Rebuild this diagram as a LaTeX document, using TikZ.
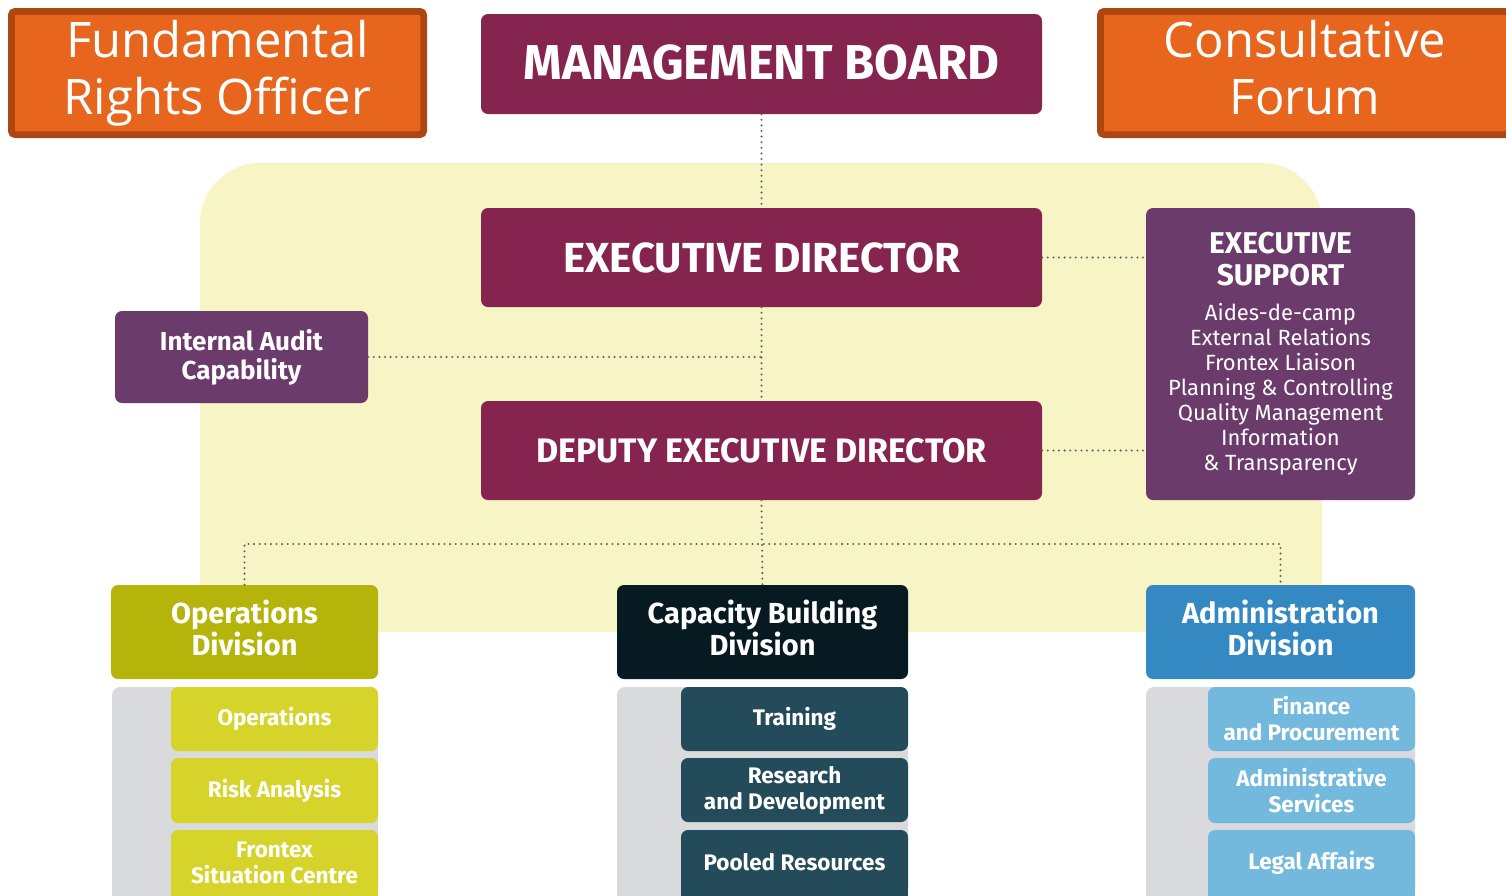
\documentclass[tikz,border=0pt]{standalone}
\usepackage{fontspec}
\newfontfamily\orgf{Fira Sans}
\newfontfamily\titf{Open Sans}
\newcommand\dpstrut[1]{\rule[-#1]{0pt}{#1}}
\definecolor{maroon}{HTML}{85254F}
\definecolor{purp}{HTML}{6B3B6B}
\definecolor{bgyellow}{HTML}{F7F4C6}
\definecolor{olive}{HTML}{B4B40A}
\definecolor{olivesub}{HTML}{D6D42A}
\definecolor{navy}{HTML}{071A22}
\definecolor{navysub}{HTML}{244B59}
\definecolor{blued}{HTML}{3489C2}
\definecolor{bluesub}{HTML}{73B9DD}
\definecolor{greyb}{HTML}{D9DADC}
\definecolor{orangef}{HTML}{E8651E}
\definecolor{oranged}{HTML}{AE4612}
\definecolor{dotgray}{HTML}{666666}
\begin{document}
\begin{tikzpicture}[x=1pt,y=-1pt,
  orgbox/.style={rounded corners=7pt, text=white, align=center, inner sep=0pt},
  orangebox/.style={fill=orangef, draw=oranged, line width=6pt, rounded corners=4pt, text=white, align=center, inner sep=0pt,
    font=\titf\fontsize{49}{57}\selectfont},
  bigf/.style={font=\orgf\bfseries\fontsize{#1}{#1}\selectfont},
  divf/.style={font=\orgf\bfseries\fontsize{29}{32}\selectfont},
  subf/.style={font=\orgf\bfseries\fontsize{22.5}{26}\selectfont},
  conn/.style={draw=dotgray, line width=2.3pt, line cap=round, dash pattern=on 0pt off 5.6pt}
]
\useasboundingbox (0,0) rectangle (1506,895);
\clip (0,0) rectangle (1506,895);
% background
\fill[bgyellow] (200,632) -- (200,400) [rounded corners=60pt] -- (200,163) -- (1322,163) -- (1322,400) [sharp corners] -- (1322,632) -- cycle;

% orange boxes
\node[orangebox, minimum width=413pt, minimum height=124pt] (fro) at (217.5,73) {Fundamental\\Rights Officer};
\draw[oranged, line width=1.5pt, rounded corners=2pt] ([shift={(6pt,-6pt)}]fro.north west) rectangle ([shift={(-6pt,6pt)}]fro.south east);
\node[orangebox, minimum width=410pt, minimum height=124pt] (cf) at (1305,73) {Consultative\\Forum\vphantom{g}};
\draw[oranged, line width=1.5pt, rounded corners=2pt] ([shift={(6pt,-6pt)}]cf.north west) rectangle ([shift={(-6pt,6pt)}]cf.south east);

% top chain
\node[orgbox, fill=maroon, minimum width=561pt, minimum height=100pt, bigf=49] (mb) at (761.5,64) {MANAGEMENT BOARD\dpstrut{3pt}};
\node[orgbox, fill=maroon, minimum width=561pt, minimum height=99pt, bigf=42] (ed) at (761.5,257.5) {EXECUTIVE DIRECTOR};
\node[orgbox, fill=maroon, minimum width=561pt, minimum height=99pt, bigf=34] (ded) at (761.5,450.5) {DEPUTY EXECUTIVE DIRECTOR};
\node[orgbox, fill=purp, minimum width=253pt, minimum height=92pt, font=\orgf\bfseries\fontsize{26}{29}\selectfont] (iac) at (241.5,357) {Internal Audit\\Capability};
\node[orgbox, fill=purp, minimum width=269pt, minimum height=292pt, font=\orgf\fontsize{22}{25}\selectfont] (es) at (1280.5,354)
  {\bfseries\fontsize{30}{25}\selectfont EXECUTIVE\\[7pt]
   \bfseries\fontsize{30}{25}\selectfont SUPPORT\\[10pt]
   \mdseries\fontsize{22}{25}\selectfont Aides-de-camp\\
   External Relations\\ Frontex Liaison\\ Planning \& Controlling\\ Quality Management\\ Information\\ \& Transparency};

% divisions
\node[orgbox, fill=olive, minimum width=267pt, minimum height=94pt, divf] (ops) at (244.5,632) {Operations\\Division\dpstrut{8pt}};
\node[orgbox, fill=navy, minimum width=291pt, minimum height=94pt, divf] (cap) at (762.5,632) {Capacity Building\\Division\dpstrut{8pt}};
\node[orgbox, fill=blued, minimum width=269pt, minimum height=94pt, divf] (adm) at (1280.5,632) {Administration\\Division\dpstrut{8pt}};

% grey backings
\fill[greyb, rounded corners=8pt] (112,687) rectangle (378,910);
\fill[greyb, rounded corners=8pt] (617,687) rectangle (908,910);
\fill[greyb, rounded corners=8pt] (1146,687) rectangle (1415,910);

% sub units
\fill[olivesub] (171,870) rectangle (378,900);
\node[orgbox, fill=olivesub, minimum width=207pt, minimum height=64pt, subf] (op1) at (274.5,719) {Operations};
\node[orgbox, fill=olivesub, minimum width=207pt, minimum height=65pt, subf] (op2) at (274.5,790.5) {Risk Analysis};
\node[orgbox, fill=olivesub, minimum width=207pt, minimum height=65pt, subf] (op3) at (274.5,862.5) {Frontex\\Situation Centre};

\fill[navysub] (681,870) rectangle (908,900);
\node[orgbox, fill=navysub, minimum width=227pt, minimum height=64pt, subf] (cb1) at (794.5,719) {Training};
\node[orgbox, fill=navysub, minimum width=227pt, minimum height=64pt, subf] (cb2) at (794.5,790) {Research\\and Development};
\node[orgbox, fill=navysub, minimum width=227pt, minimum height=65pt, subf] (cb3) at (794.5,862.5) {Pooled Resources};

\fill[bluesub] (1208,870) rectangle (1415,900);
\node[orgbox, fill=bluesub, minimum width=207pt, minimum height=64pt, subf] (ad1) at (1311.5,719) {Finance\\and Procurement};
\node[orgbox, fill=bluesub, minimum width=207pt, minimum height=65pt, subf] (ad2) at (1311.5,790.5) {Administrative\\Services};
\node[orgbox, fill=bluesub, minimum width=207pt, minimum height=65pt, subf] (ad3) at (1311.5,862.5) {Legal Affairs};

% connectors
\coordinate (j) at (762.5,544);
\draw[conn] (mb.south) -- (ed.north);
\draw[conn] (ed.south) -- (ded.north);
\draw[conn] (iac.east) -- (iac.east -| ed.south);
\draw[conn] (ed.east) -- (ed.east -| es.west);
\draw[conn] (ded.east) -- (ded.east -| es.west);
\draw[conn] (ded.south) -- (cap.north);
\draw[conn] (ops.north) |- (j) -| (adm.north);
\end{tikzpicture}
\end{document}
